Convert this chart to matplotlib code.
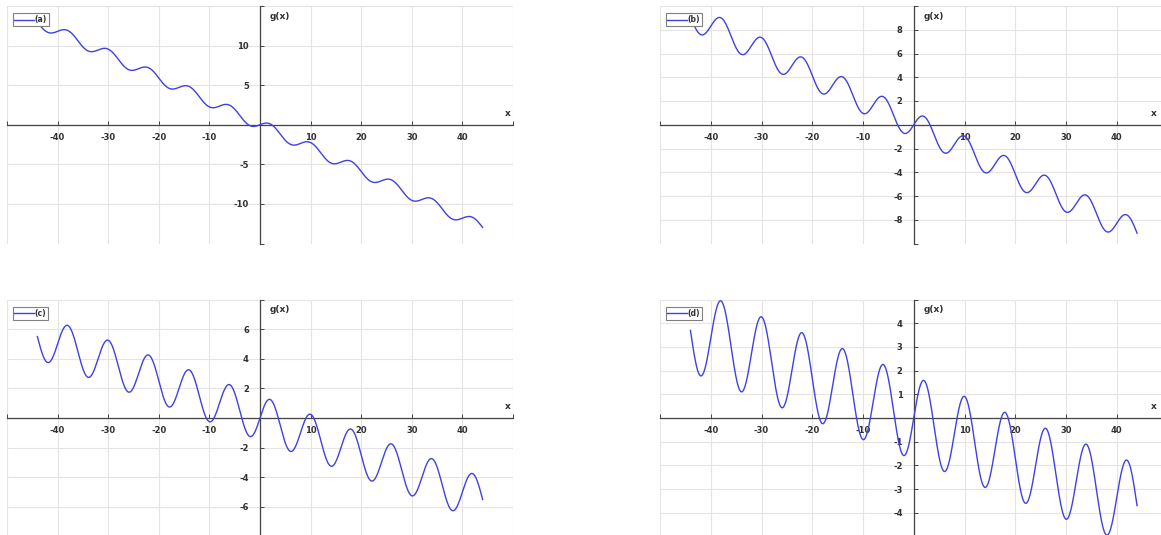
import numpy as np
import matplotlib
matplotlib.use("Agg")
import matplotlib.pyplot as plt
from matplotlib.ticker import FuncFormatter

# ---- data (parameters) ----
labels = ["(a)", "(b)", "(c)", "(d)"]
slopes = [0.295, 0.2075, 0.125, 0.084]      # downward trend of g(x)
amplitudes = [0.70, 1.12, 1.50, 1.75]        # oscillation amplitude
period = 8.0                                  # oscillation period in x
x_start, x_end = -44, 44
x_limits = (-50, 50)
x_ticks = list(range(-50, 51, 10))
y_limits = [(-15, 15), (-10, 10), (-8, 8), (-5, 5)]
y_tick_steps = [5, 2, 2, 1]

W, H = 1161, 535
fig = plt.figure(figsize=(W / 100, H / 100), dpi=100)
fig.patch.set_facecolor("white")

# axes rectangles in pixels: left, top, right, bottom
rects = [(7, 6, 513, 243.5), (660, 6, 1167.5, 243.5),
         (7, 299.5, 513, 536.5), (660, 299.5, 1167.5, 536.5)]

x = np.linspace(x_start, x_end, 3000)
axis_col = "#444444"
text_col = "#303030"

for i in range(4):
    l, t, r, b = rects[i]
    ax = fig.add_axes([l / W, (H - b) / H, (r - l) / W, (b - t) / H])
    g = -slopes[i] * x + amplitudes[i] * np.sin(2 * np.pi * x / period)
    ax.plot(x, g, color="#4040e6", lw=1.0, label=labels[i], zorder=3)

    ylo, yhi = y_limits[i]
    ax.set_xlim(*x_limits)
    ax.set_ylim(ylo, yhi)
    ax.set_xticks(x_ticks)
    yt = np.arange(ylo, yhi + 0.001, y_tick_steps[i])
    ax.set_yticks(yt)

    def make_fmt(lo, hi):
        def f(v, pos):
            if abs(v) < 1e-9 or abs(v - lo) < 1e-9 or abs(v - hi) < 1e-9:
                return ""
            return f"{int(round(v))}"
        return f

    ax.xaxis.set_major_formatter(FuncFormatter(make_fmt(*x_limits)))
    ax.yaxis.set_major_formatter(FuncFormatter(make_fmt(ylo, yhi)))

    ax.spines["left"].set_position("zero")
    ax.spines["bottom"].set_position("zero")
    ax.spines["top"].set_visible(False)
    ax.spines["right"].set_visible(False)
    for s in ("left", "bottom"):
        ax.spines[s].set_color(axis_col)
        ax.spines[s].set_linewidth(0.9)

    ax.tick_params(axis="x", direction="in", length=3, width=0.7,
                   colors=axis_col, labelsize=6, pad=6)
    ax.tick_params(axis="y", direction="in", length=3, width=0.7,
                   colors=axis_col, labelsize=6, pad=8)
    for lab in ax.get_xticklabels() + ax.get_yticklabels():
        lab.set_fontweight("bold")
        lab.set_color(text_col)

    ax.grid(True, color="#e4e4e4", lw=0.8, zorder=0)
    ax.set_axisbelow(True)

    ax.text(0.02 * (x_limits[1] - x_limits[0]), yhi - 0.025 * (yhi - ylo), "g(x)",
            fontsize=6.5, fontweight="bold", color=text_col,
            ha="left", va="top")
    # "x" axis label at the right end, kept inside the visible figure area
    visible_right = min(r, W - 2)
    frac = (visible_right - l) / (r - l) - 0.004
    ax.text(frac, 0.5 + 0.03, "x", transform=ax.transAxes,
            fontsize=6.5, fontweight="bold",
            color=text_col, ha="right", va="bottom")

    leg = ax.legend(loc="upper left", bbox_to_anchor=(0.008, 0.975),
                    fontsize=5.5, handlelength=2.6, handletextpad=0.0,
                    borderpad=0.25, borderaxespad=0.2, fancybox=False,
                    framealpha=1, edgecolor="#808080")
    for txt in leg.get_texts():
        txt.set_fontweight("bold")
        txt.set_color(text_col)
    leg.get_frame().set_linewidth(0.8)

fig.savefig("out.png", dpi=100, facecolor="white")
